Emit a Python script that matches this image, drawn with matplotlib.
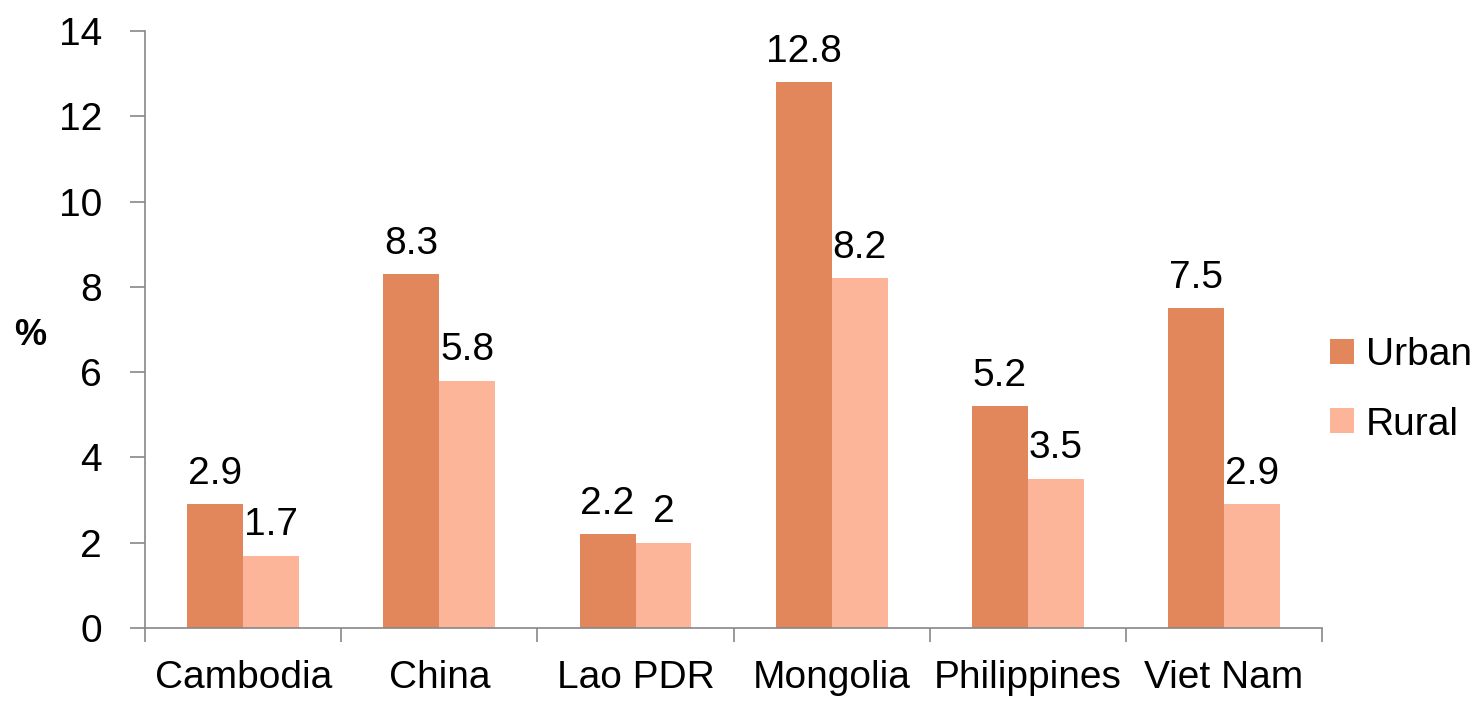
import numpy as np
import matplotlib
matplotlib.use("Agg")
import matplotlib.pyplot as plt

# data
countries = ["Cambodia", "China", "Lao PDR", "Mongolia", "Philippines", "Viet Nam"]
urban = [2.9, 8.3, 2.2, 12.8, 5.2, 7.5]
rural = [1.7, 5.8, 2.0, 8.2, 3.5, 2.9]
urban_labels = ["2.9", "8.3", "2.2", "12.8", "5.2", "7.5"]
rural_labels = ["1.7", "5.8", "2", "8.2", "3.5", "2.9"]

plt.rcParams["font.family"] = ["Liberation Sans", "DejaVu Sans"]
FS = 28

fig = plt.figure(figsize=(14.74, 7.09), dpi=100)
ax = fig.add_axes([0.0984, 0.1142, 0.7986, 0.8421])

x = np.arange(len(countries))
w = 0.285
b1 = ax.bar(x - w / 2, urban, w, color="#E2875B", label="Urban")
b2 = ax.bar(x + w / 2, rural, w, color="#FDB59A", label="Rural")

for bars, labels in [(b1, urban_labels), (b2, rural_labels)]:
    for rect, lab in zip(bars, labels):
        ax.annotate(lab, (rect.get_x() + rect.get_width() / 2, rect.get_height()),
                    xytext=(0, 9), textcoords="offset points",
                    ha="center", va="bottom", fontsize=FS)

ax.set_xlim(-0.5, len(countries) - 0.5)
ax.set_ylim(0, 14)
ax.set_yticks(np.arange(0, 15, 2))
ax.tick_params(axis="y", labelsize=FS, length=11, width=1.2, color="#888888", pad=20)

# boundaries as major ticks, names on minor ticks
ax.set_xticks(np.arange(-0.5, len(countries), 1))
ax.set_xticklabels([])
ax.set_xticks(x, minor=True)
ax.set_xticklabels(countries, minor=True)
ax.tick_params(axis="x", which="major", length=10, width=1.2, color="#888888")
ax.tick_params(axis="x", which="minor", length=0, labelsize=FS, pad=23)

for s in ["top", "right"]:
    ax.spines[s].set_visible(False)
for s in ["left", "bottom"]:
    ax.spines[s].set_color("#888888")
    ax.spines[s].set_linewidth(1.2)

ax.set_ylabel("%", fontsize=26, fontweight="bold", rotation=0, va="center", ha="center")
ax.yaxis.set_label_coords(-0.0977, 0.49)

fig.legend(handles=[b1, b2], loc="center left",
           bbox_to_anchor=(1330 / 1474, 1 - 390 / 709), frameon=False,
           fontsize=FS, handlelength=0.62, handleheight=0.62, handletextpad=0.3,
           labelspacing=0.85, borderaxespad=0, borderpad=0)

fig.savefig("out.png", dpi=100)
